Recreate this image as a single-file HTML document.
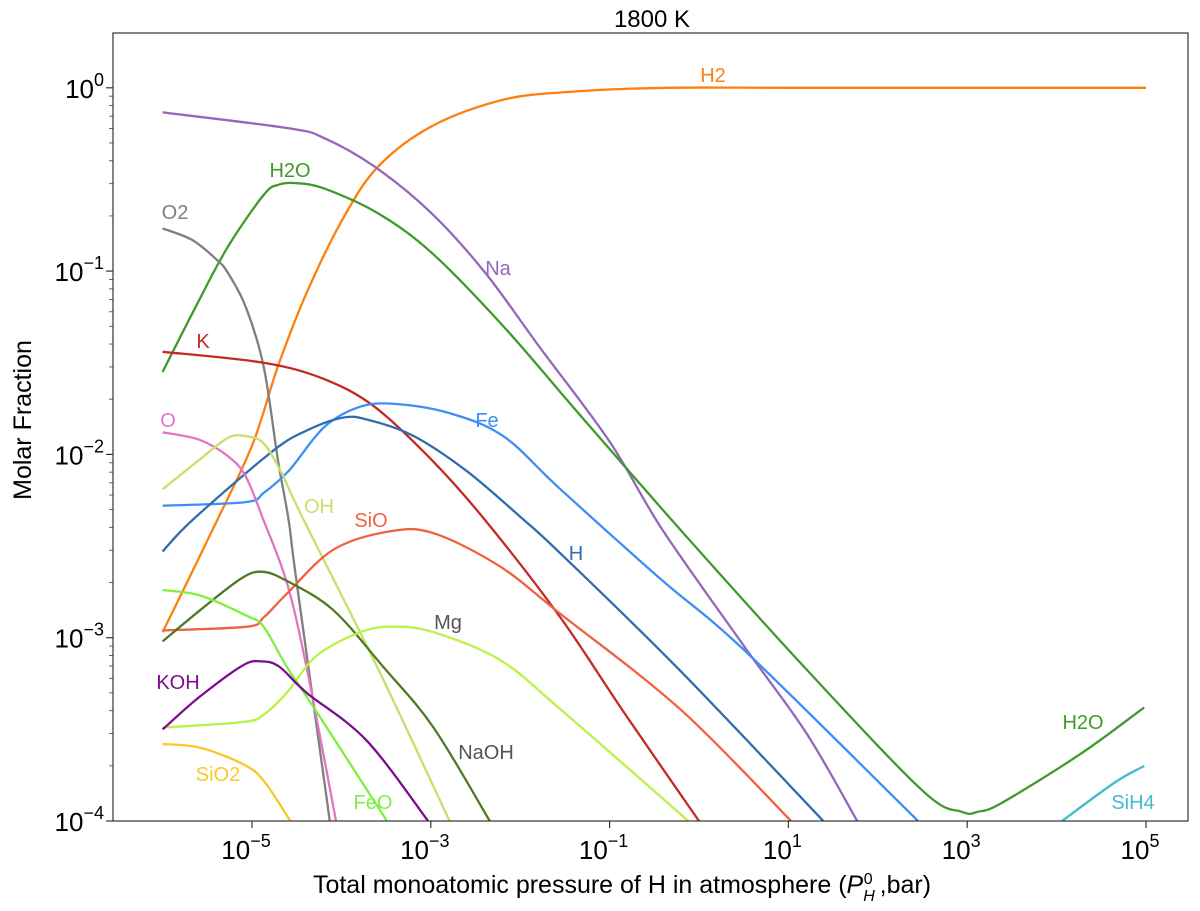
<!DOCTYPE html>
<html><head><meta charset="utf-8"><style>
html,body{margin:0;padding:0;background:#fff;}
svg text{font-family:"Liberation Sans","DejaVu Sans",sans-serif;}
</style></head><body>
<svg id="chart" width="1200" height="906" viewBox="0 0 1200 906" xmlns="http://www.w3.org/2000/svg">
<defs><clipPath id="clip"><rect x="113" y="33" width="1075" height="788"/></clipPath></defs>
<text x="652" y="27" font-size="24" text-anchor="middle">1800 K</text>
<text transform="translate(31,420) rotate(-90)" font-size="25" text-anchor="middle">Molar Fraction</text>
<text x="622" y="893" font-size="25" text-anchor="middle">Total monoatomic pressure of H in atmosphere (<tspan font-style="italic">P</tspan><tspan font-size="16" dy="8" font-style="italic">H</tspan><tspan font-size="16" dx="-11" dy="-17">0</tspan><tspan dy="9"> ,bar)</tspan></text>
<g id="ticks"></g>
<g id="series" clip-path="url(#clip)"></g>
<g id="labels"></g>
<rect x="113" y="33" width="1075" height="788" fill="none" stroke="#333" stroke-width="1.2"/>
</svg>
<script>
const xTickExps = [-5,-3,-1,1,3,5];
const yTickExps = [-4,-3,-2,-1,0];
const seriesNames = ["H2","Na","H2O","O2","K","Fe","H","O","OH","SiO","NaOH","Mg","FeO","KOH","SiO2","SiH4"];
// x values: log10(P); y values: log10(molar fraction)
const xH2 = [-6,-5.39,-4.99,-4.71,-4.39,-3.99,-3.59,-2.99,-2.19,-1.39,-0.36,1,3,5];
const yH2 = [-2.97,-2.36,-1.94,-1.52,-1.12,-0.72,-0.43,-0.21,-0.065,-0.02,0,0,0,0];
const xNa = [-6,-4.59,-4.19,-3.63,-2.99,-2.39,-1.79,-1.0,-0.41,0.51,1.2,1.77];
const yNa = [-0.134,-0.221,-0.275,-0.43,-0.685,-1.01,-1.41,-1.93,-2.41,-3.05,-3.52,-4];
const xH2O = [-6,-5.63,-5.27,-4.87,-4.71,-4.51,-4.19,-3.59,-2.99,-2.19,-1.34,-0.21,1.14,2.49,2.94,3.12,3.39,4.28,4.98];
const yH2O = [-1.55,-1.195,-0.867,-0.585,-0.53,-0.52,-0.55,-0.685,-0.90,-1.30,-1.78,-2.41,-3.14,-3.83,-3.95,-3.95,-3.90,-3.63,-3.38];
const xO2 = [-6,-5.67,-5.39,-5.27,-5.07,-4.87,-4.71,-4.59,-4.5,-4.13];
const yO2 = [-0.767,-0.83,-0.94,-1.01,-1.195,-1.52,-2.03,-2.36,-2.70,-4];
const xK = [-6,-4.87,-4.19,-3.63,-2.99,-2.39,-1.55,-0.85,0.0];
const yK = [-1.44,-1.50,-1.59,-1.74,-2.03,-2.36,-2.89,-3.4,-4];
const xFe = [-6,-5.07,-4.87,-4.59,-4.19,-3.79,-3.39,-2.79,-2.19,-1.55,-0.43,0.51,2.45];
const yFe = [-2.28,-2.26,-2.21,-2.09,-1.85,-1.74,-1.725,-1.775,-1.90,-2.19,-2.68,-3.07,-4];
const xH = [-6,-5.67,-4.79,-4.39,-3.99,-3.71,-3.19,-2.6,-2.0,-1.55,-0.21,1.39];
const yH = [-2.53,-2.36,-1.99,-1.87,-1.80,-1.81,-1.90,-2.09,-2.34,-2.54,-3.18,-4];
const xO = [-6,-5.59,-5.27,-5.07,-4.87,-4.61,-4.39,-4.06];
const yO = [-1.88,-1.92,-2.01,-2.12,-2.36,-2.70,-3.16,-4];
const xOH = [-6,-5.59,-5.27,-5.07,-4.87,-4.67,-4.45,-3.6,-2.79];
const yOH = [-2.19,-2.03,-1.91,-1.90,-1.94,-2.10,-2.33,-3.16,-4];
const xSiO = [-6,-5.06,-4.87,-4.61,-4.09,-3.46,-2.97,-2.23,-1.55,-0.21,1.03];
const ySiO = [-2.96,-2.94,-2.89,-2.76,-2.52,-2.42,-2.43,-2.61,-2.87,-3.39,-4];
const xNaOH = [-6,-5.58,-5.13,-4.89,-4.61,-4.09,-3.53,-2.97,-2.34];
const yNaOH = [-3.02,-2.85,-2.68,-2.64,-2.69,-2.85,-3.16,-3.49,-4];
const xMg = [-6,-5.10,-4.87,-4.61,-4.28,-3.79,-3.42,-2.97,-2.23,-1.55,-0.12];
const yMg = [-3.49,-3.46,-3.42,-3.30,-3.10,-2.97,-2.94,-2.97,-3.12,-3.39,-4];
const xFeO = [-6,-5.58,-5.06,-4.87,-4.61,-4.31,-3.49];
const yFeO = [-2.74,-2.77,-2.88,-2.94,-3.16,-3.38,-4];
const xKOH = [-6,-5.58,-5.10,-4.88,-4.69,-4.39,-3.72,-3.03];
const yKOH = [-3.50,-3.32,-3.15,-3.13,-3.16,-3.30,-3.56,-4];
const xSiO2 = [-6,-5.58,-5.10,-4.87,-4.57];
const ySiO2 = [-3.58,-3.60,-3.69,-3.78,-4];
const xSiH4 = [4.06,4.65,4.98];
const ySiH4 = [-4,-3.79,-3.70];

const NS = "http://www.w3.org/2000/svg";
function sx(lx){ return 252 + (lx + 5) * 89.4; }
function sy(ly){ return 821 - (ly + 4) * 183.3; }
const colors = {H2:"#ff7f0e",Na:"#9467bd",H2O:"#3f9a2c",O2:"#7f7f7f",K:"#c42a24",Fe:"#3d8ef5",H:"#2f6db0",O:"#e075c3",OH:"#c8df6a",SiO:"#f2613f",NaOH:"#4f7a25",Mg:"#b9f24a",FeO:"#7ff03f",KOH:"#7d0d8f",SiO2:"#f9c828",SiH4:"#45b9cf"};
const data = {H2:[xH2,yH2],Na:[xNa,yNa],H2O:[xH2O,yH2O],O2:[xO2,yO2],K:[xK,yK],Fe:[xFe,yFe],H:[xH,yH],O:[xO,yO],OH:[xOH,yOH],SiO:[xSiO,ySiO],NaOH:[xNaOH,yNaOH],Mg:[xMg,yMg],FeO:[xFeO,yFeO],KOH:[xKOH,yKOH],SiO2:[xSiO2,ySiO2],SiH4:[xSiH4,ySiH4]};

const gS = document.getElementById("series");
seriesNames.forEach(function(n){
  const xs = data[n][0], ys = data[n][1];
  const pts = xs.map(function(v,i){ return [sx(v), sy(ys[i])]; });
  let d = "M" + pts[0][0].toFixed(1) + "," + pts[0][1].toFixed(1);
  for (let i = 0; i < pts.length - 1; i++) {
    const p0 = pts[Math.max(0,i-1)], p1 = pts[i], p2 = pts[i+1], p3 = pts[Math.min(pts.length-1,i+2)];
    const c1x = p1[0] + (p2[0]-p0[0])/6, c1y = p1[1] + (p2[1]-p0[1])/6;
    const c2x = p2[0] - (p3[0]-p1[0])/6, c2y = p2[1] - (p3[1]-p1[1])/6;
    d += " C" + c1x.toFixed(1)+","+c1y.toFixed(1)+" "+c2x.toFixed(1)+","+c2y.toFixed(1)+" "+p2[0].toFixed(1)+","+p2[1].toFixed(1);
  }
  const p = document.createElementNS(NS,"path");
  p.setAttribute("d", d);
  p.setAttribute("fill","none");
  p.setAttribute("stroke", colors[n]);
  p.setAttribute("stroke-width","2.3");
  
  
  gS.appendChild(p);
});

const gT = document.getElementById("ticks");
function mk(tag, attrs){ const e = document.createElementNS(NS, tag); for (const k in attrs) e.setAttribute(k, attrs[k]); return e; }
xTickExps.forEach(function(e){
  const x = sx(e);
  const t = mk("line",{x1:x,x2:x,y1:821,y2:828,stroke:"#333","stroke-width":1.2});
  
  
  gT.appendChild(t);
  const tx = mk("text",{x:x-6,y:859,"font-size":26,"text-anchor":"middle"});
  
  
  tx.innerHTML = '10<tspan font-size="18" dy="-12">' + (e < 0 ? "\u2212" + (-e) : e) + '</tspan>';
  gT.appendChild(tx);
});
yTickExps.forEach(function(e){
  const y = sy(e);
  const t = mk("line",{x1:106,x2:113,y1:y,y2:y,stroke:"#333","stroke-width":1.2});
  
  
  gT.appendChild(t);
  const tx = mk("text",{x:104,y:y+10,"font-size":26,"text-anchor":"end"});
  
  
  tx.innerHTML = '10<tspan font-size="18" dy="-12">' + (e < 0 ? "\u2212" + (-e) : e) + '</tspan>';
  gT.appendChild(tx);
  for (let m = 2; m <= 9; m++) {
    const ym = sy(e + Math.log10(m));
    if (ym < 33) continue;
    const mt = mk("line",{x1:109,x2:113,y1:ym,y2:ym,stroke:"#555","stroke-width":0.9});
    
    
    gT.appendChild(mt);
  }
});

const labelText = ["H2","H2O","O2","Na","K","O","Fe","OH","SiO","H","Mg","NaOH","KOH","SiO2","FeO","H2O","SiH4"];
const labelColorKey = ["H2","H2O","O2","Na","K","O","Fe","OH","SiO","H","#555","#555","KOH","SiO2","FeO","H2O","SiH4"];
const labelPX = [713,290,175,498,203,168,487,319,371,576,448,486,178,218,373,1083,1133];
const labelPY = [82,177,219,275,348,427,427,513,527,560,629,759,689,781,809,729,809];
const gL = document.getElementById("labels");
labelText.forEach(function(t,i){
  const c = labelColorKey[i].charAt(0) === "#" ? labelColorKey[i] : colors[labelColorKey[i]];
  const tx = mk("text",{x:labelPX[i],y:labelPY[i],"font-size":20,"text-anchor":"middle",fill:c});
  
  
  tx.textContent = t;
  gL.appendChild(tx);
});
</script>
</body></html>
